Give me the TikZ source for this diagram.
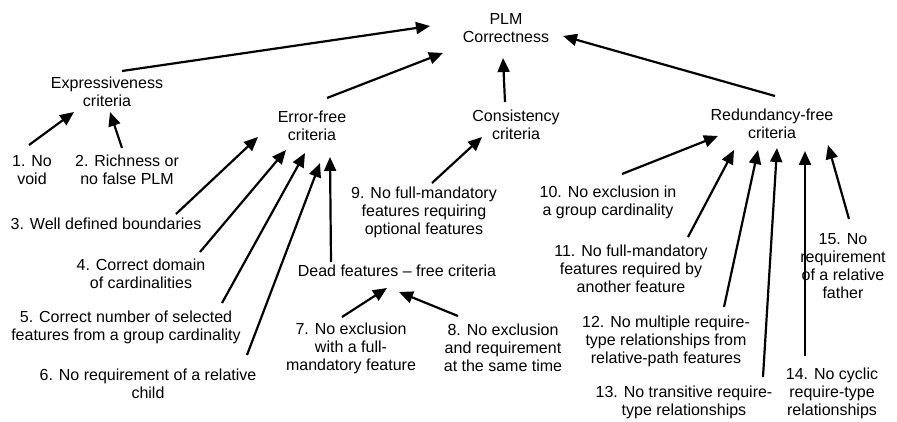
\documentclass[tikz,border=0pt]{standalone}
\usepackage{fontspec}
\setmainfont{Liberation Sans}
\usetikzlibrary{arrows.meta}
\begin{document}
\begin{tikzpicture}[x=1pt,y=-1pt,
  lbl/.style={align=center,inner sep=0pt,font=\fontsize{16}{18}\selectfont},
  arr/.style={-{Triangle[length=14pt,width=12pt]},line width=2.2pt}]
\useasboundingbox (0,0) rectangle (897,422);
% nodes
\node[lbl] (plm) at (506,28) {PLM\\Correctness};
\node[lbl] (expr) at (107,92) {Expressiveness\\criteria};
\node[lbl] (err) at (312,126) {Error-free\\criteria};
\node[lbl] (cons) at (516,125) {Consistency\\criteria};
\node[lbl] (red) at (772,124) {Redundancy-free\\criteria};
\node[lbl] (n1) at (32,170) {1. No\\void};
\node[lbl] (n2) at (127,170) {2. Richness or\\no false PLM};
\node[lbl] (n3) at (106,224) {3. Well defined boundaries};
\node[lbl] (n4) at (141,274) {4. Correct domain\\of cardinalities};
\node[lbl] (n5) at (126,327) {5. Correct number of selected\\features from a group cardinality};
\node[lbl] (n6) at (148,384) {6. No requirement of a relative\\child};
\node[lbl] (dead) at (397,271) {Dead features -- free criteria};
\node[lbl] (n7) at (351,348) {7. No exclusion\\with a full-\\mandatory feature};
\node[lbl] (n8) at (503,348) {8. No exclusion\\and requirement\\at the same time};
\node[lbl] (n9) at (424,212) {9. No full-mandatory\\features requiring\\optional features};
\node[lbl] (n10) at (608,202) {10. No exclusion in\\a group cardinality};
\node[lbl] (n11) at (631,269) {11. No full-mandatory\\features required by\\another feature};
\node[lbl] (n12) at (666,341) {12. No multiple require-\\type relationships from\\relative-path features};
\node[lbl] (n13) at (684,402) {13. No transitive require-\\type relationships};
\node[lbl] (n14) at (832,393) {14. No cyclic\\require-type\\relationships};
\node[lbl] (n15) at (843,266) {15. No\\requirement\\of a relative\\father};
% arrow end points
\coordinate (a1s) at (122,71);  \coordinate (a1e) at (430,26);
\coordinate (a2s) at (327,98);  \coordinate (a2e) at (443,53);
\coordinate (a3s) at (505,102); \coordinate (a3e) at (503,58);
\coordinate (a4s) at (775,96);  \coordinate (a4e) at (563,36);
\coordinate (a5s) at (29,145);  \coordinate (a5e) at (74,112);
\coordinate (a6s) at (122,148); \coordinate (a6e) at (110,112);
\coordinate (a7s) at (176,214); \coordinate (a7e) at (258,137);
\coordinate (a8s) at (200,252); \coordinate (a8e) at (286,150);
\coordinate (a9s) at (222,303); \coordinate (a9e) at (305,153);
\coordinate (a10s) at (247,355); \coordinate (a10e) at (320,163);
\coordinate (a11s) at (331,262); \coordinate (a11e) at (330,157);
\coordinate (a12s) at (432,183); \coordinate (a12e) at (482,137);
\coordinate (a13s) at (342,317); \coordinate (a13e) at (387,288);
\coordinate (a14s) at (458,316); \coordinate (a14e) at (399,292);
\coordinate (a15s) at (622,174); \coordinate (a15e) at (718,136);
\coordinate (a16s) at (688,237); \coordinate (a16e) at (734,150);
\coordinate (a17s) at (724,307); \coordinate (a17e) at (758,150);
\coordinate (a18s) at (763,377); \coordinate (a18e) at (777,148);
\coordinate (a19s) at (805,356); \coordinate (a19e) at (805,151);
\coordinate (a20s) at (849,219); \coordinate (a20e) at (828,145);
% arrows
\foreach \i in {1,...,20}{\draw[arr] (a\i s) -- (a\i e);}
\end{tikzpicture}
\end{document}
